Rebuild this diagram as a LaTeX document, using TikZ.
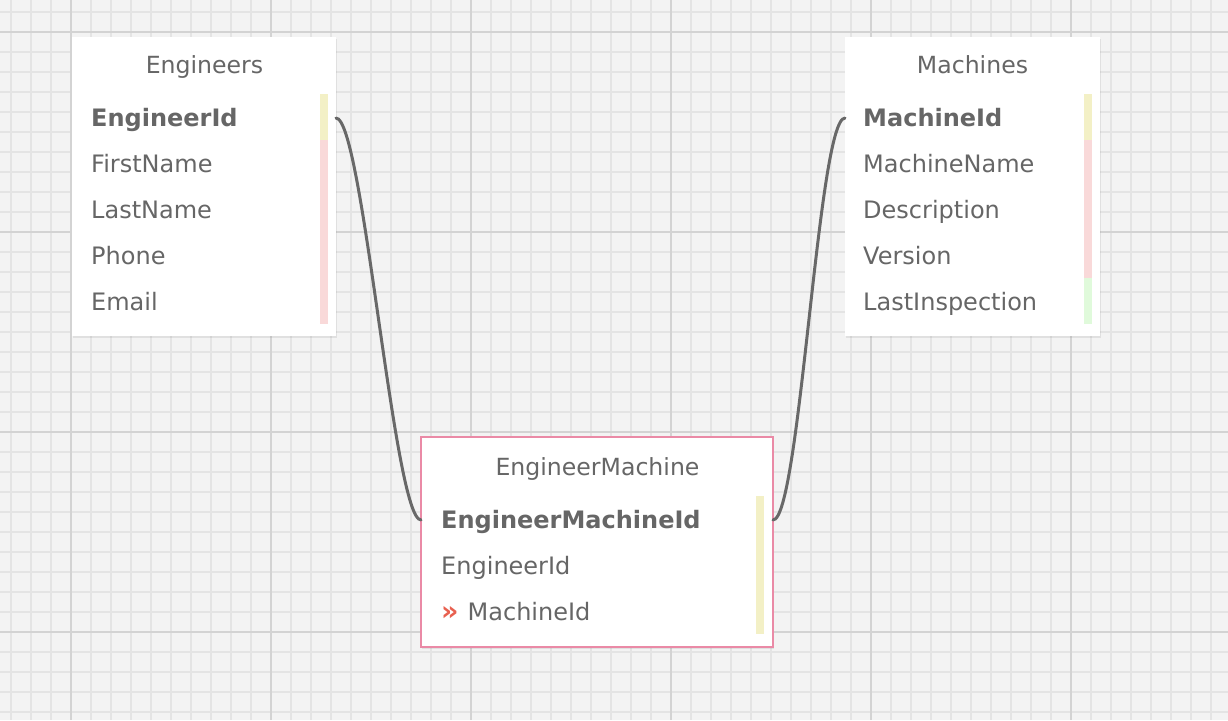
\documentclass[tikz,border=0pt]{standalone}
\usepackage{fontspec}
\setmainfont{DejaVu Sans}
\usetikzlibrary{shadows}
\definecolor{bg}{HTML}{F3F3F3}
\definecolor{gridminor}{HTML}{E4E4E4}
\definecolor{gridmajor}{HTML}{D3D3D3}
\definecolor{txt}{HTML}{666666}
\definecolor{keybar}{HTML}{F3F0C6}
\definecolor{pinkbar}{HTML}{F9D9D9}
\definecolor{greenbar}{HTML}{E0FADB}
\definecolor{emborder}{HTML}{EA8AA6}
\definecolor{fkred}{HTML}{E8604F}
\definecolor{linkc}{HTML}{686868}
\begin{document}
\begin{tikzpicture}[x=1pt,y=-1pt,
  minorline/.style={draw=gridminor, line width=1.6pt},
  majorline/.style={draw=gridmajor, line width=2pt},
  tablebox/.style={fill=white, anchor=north west, inner sep=0pt, outer sep=0pt,
    drop shadow={shadow xshift=0.5pt, shadow yshift=-1.5pt, opacity=0.16}},
  titletext/.style={anchor=base, inner sep=0pt, text=txt, font=\fontsize{23.6}{28}\selectfont},
  rowtext/.style={anchor=west, inner sep=0pt, text=txt, text height=17.5pt, text depth=0pt, font=\fontsize{24}{28}\selectfont},
  link/.style={draw=linkc, line width=3pt, line cap=round}
]
\useasboundingbox (0,0) rectangle (1228,720);
\begin{scope}
\clip (0,0) rectangle (1228,720);
\fill[bg] (0,0) rectangle (1228,720);
\foreach \i in {0,...,61} {\draw[minorline] ({11+20*\i},0) -- ({11+20*\i},720);}
\foreach \j in {0,...,35} {\draw[minorline] (0,{12+20*\j}) -- (1228,{12+20*\j});}
\foreach \x in {71,271,471,671,871,1071} {\draw[majorline] (\x,0) -- (\x,720);}
\foreach \y in {32,232,432,632} {\draw[majorline] (0,\y) -- (1228,\y);}
\end{scope}

% Engineers table
\node[tablebox, minimum width=264pt, minimum height=299pt] (eng) at (72,37) {};
\fill[keybar] (320,94) rectangle (328,140);
\fill[pinkbar] (320,140) rectangle (328,324);
\node[titletext] (eng-title) at (204.5,73.5) {Engineers};
\node[rowtext] (eng-r1) at (91,118) {\textbf{EngineerId}};
\node[rowtext] (eng-r2) at (91,164) {FirstName};
\node[rowtext] (eng-r3) at (91,210) {LastName};
\node[rowtext] (eng-r4) at (91,256) {Phone};
\node[rowtext] (eng-r5) at (91,302) {Email};

% Machines table
\node[tablebox, minimum width=255pt, minimum height=299pt] (mac) at (845,37) {};
\fill[keybar] (1084,94) rectangle (1092,140);
\fill[pinkbar] (1084,140) rectangle (1092,278);
\fill[greenbar] (1084,278) rectangle (1092,324);
\node[titletext] (mac-title) at (972.5,73.5) {Machines};
\node[rowtext] (mac-r1) at (863,118) {\textbf{MachineId}};
\node[rowtext] (mac-r2) at (863,164) {MachineName};
\node[rowtext] (mac-r3) at (863,210) {Description};
\node[rowtext] (mac-r4) at (863,256) {Version};
\node[rowtext] (mac-r5) at (863,302) {LastInspection};

% EngineerMachine table
\node[tablebox, draw=emborder, line width=1.5pt, minimum width=352pt, minimum height=210pt] (em) at (421,437) {};
\fill[keybar] (756,496) rectangle (764,634);
\node[titletext] (em-title) at (597.5,475.5) {EngineerMachine};
\node[rowtext] (em-r1) at (441,520) {\textbf{EngineerMachineId}};
\node[rowtext] (em-r2) at (441,566) {EngineerId};
\node[rowtext] (em-r3) at (441,612) {\textcolor{fkred}{\fontsize{27}{28}\selectfont\textbf{»}}\hspace{9pt}MachineId};

% connectors
\draw[link] (eng.east |- eng-r1.west) .. controls +(27,0) and +(-27,0) .. (em.west |- em-r1.west);
\draw[link] (em.east |- em-r1.west) .. controls +(27,0) and +(-27,0) .. (mac.west |- mac-r1.west);
\end{tikzpicture}
\end{document}
